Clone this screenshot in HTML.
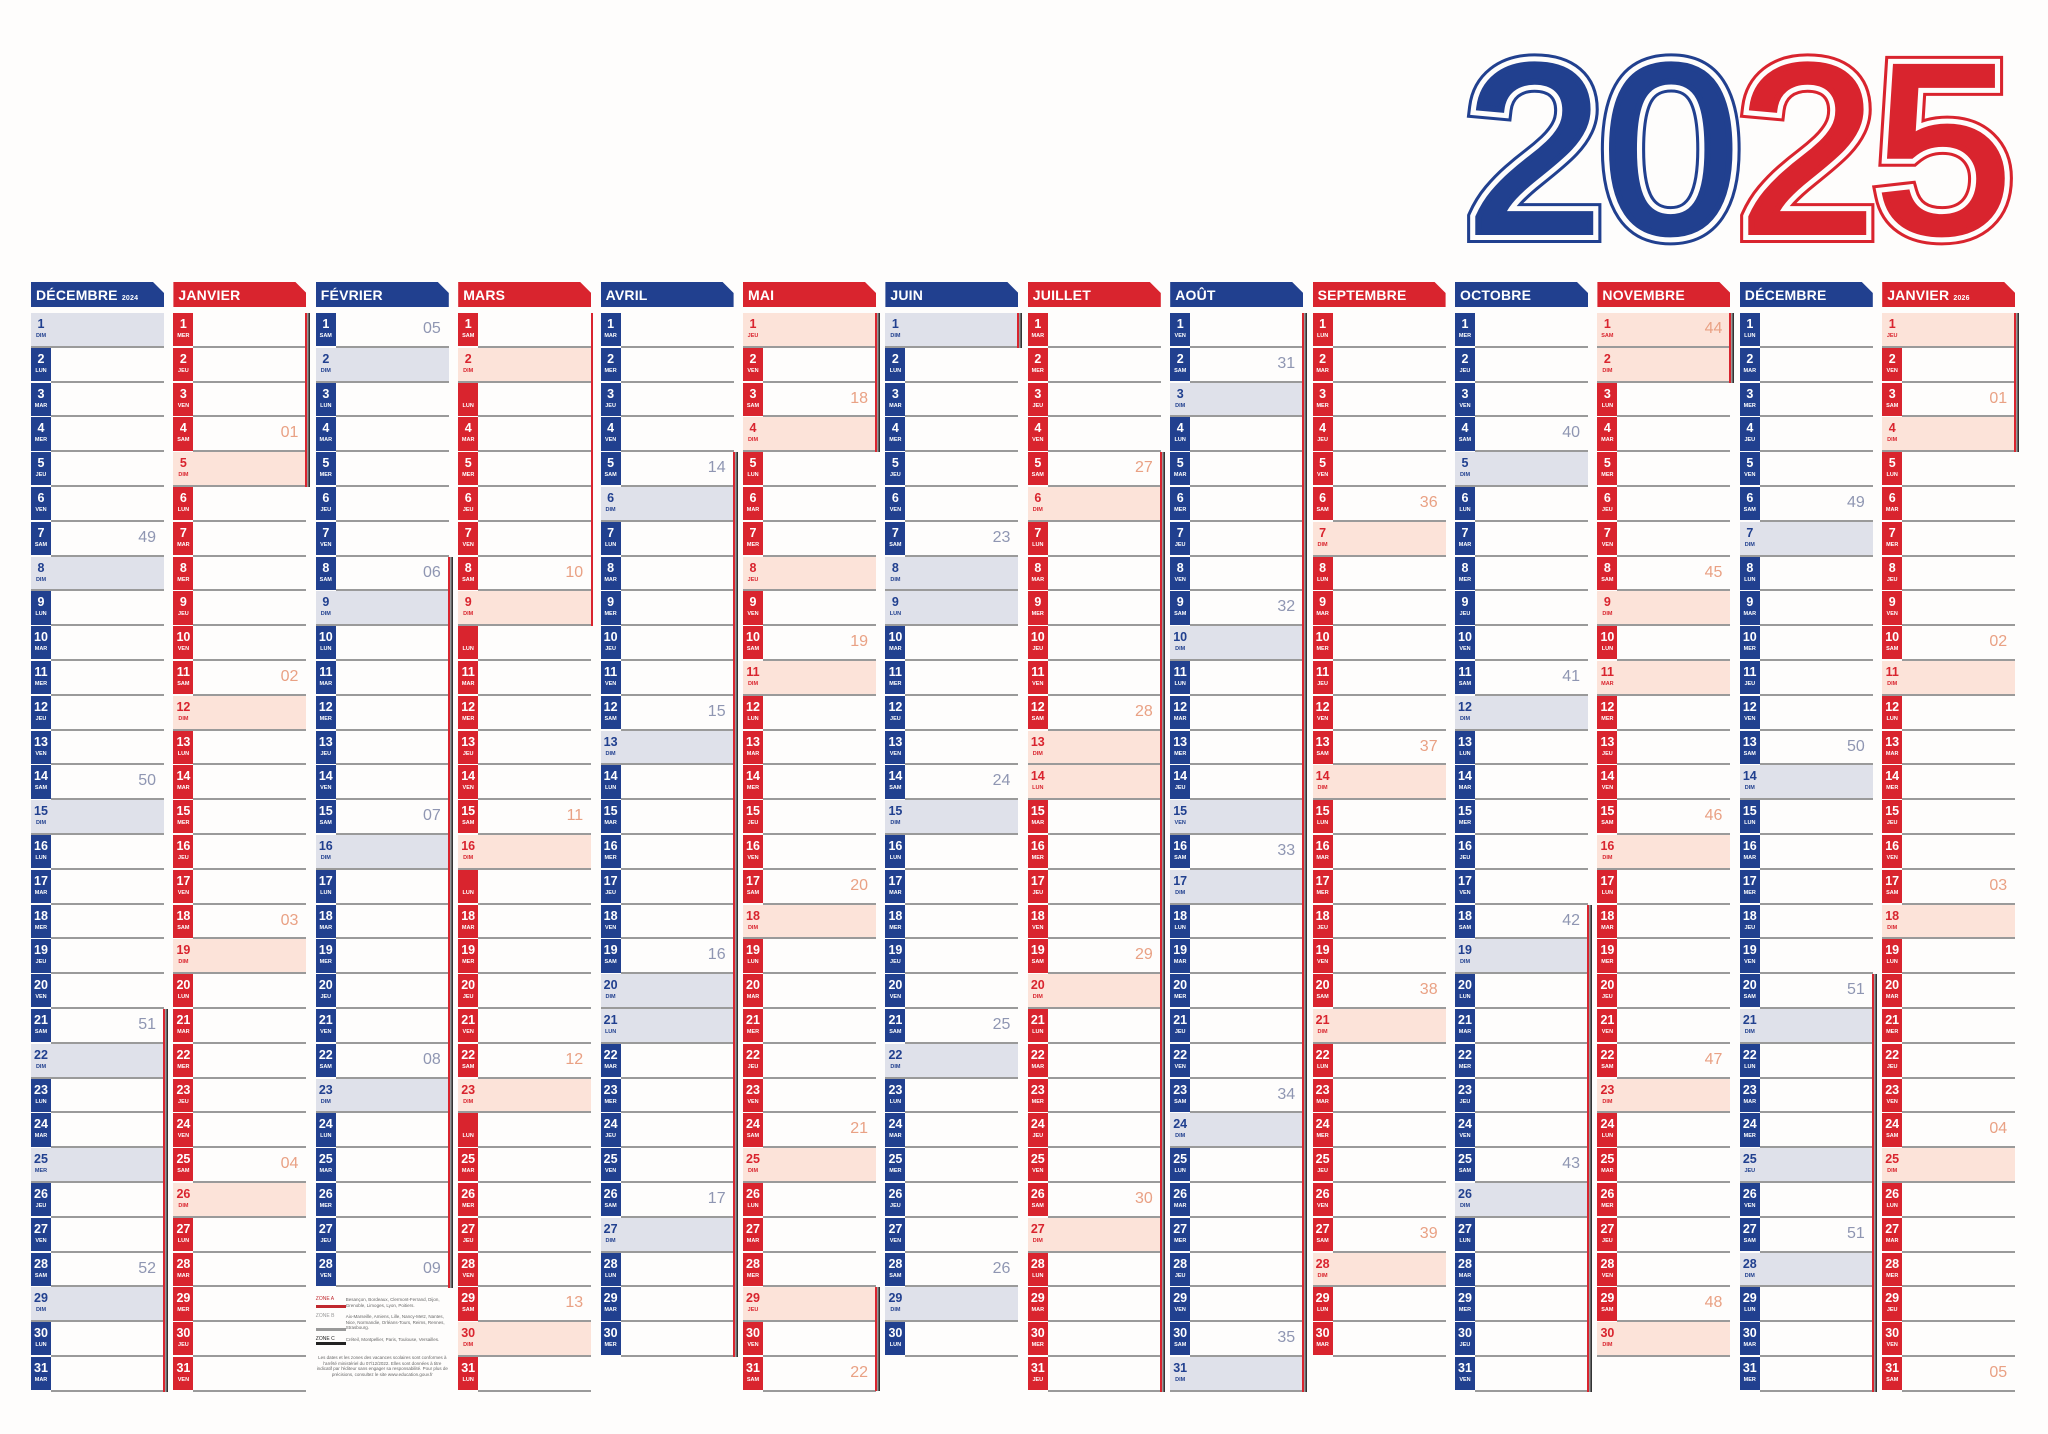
<!DOCTYPE html>
<html><head><meta charset="utf-8">
<style>
*{box-sizing:border-box}
body{margin:0;width:2048px;height:1434px;background:#fefdfc;position:relative;overflow:hidden;font-family:"Liberation Sans",sans-serif}
.c{position:absolute;top:282px;width:133px}
.B{--k:#21408f;--l:#dfe1ea;--w:#8f96b2}
.R{--k:#d9242e;--l:#fce3d9;--w:#e9a184}
.h{height:25px;background:var(--k);color:#fff;font-weight:700;font-size:14px;line-height:27px;padding-left:5px;clip-path:polygon(0 0,calc(100% - 11px) 0,100% 11px,100% 100%,0 100%);letter-spacing:.2px}
.h small{font-size:7px}
.d{margin-top:6px}
.d p{position:relative;height:34.8px;margin:0}
.d p:after{content:"";position:absolute;left:20px;right:0;bottom:0;height:2px;background:#9a9a9a}
.d p b{position:absolute;left:0;top:0;width:20px;height:33.3px;background:var(--k);color:#fff;text-align:center;font-size:12.5px;line-height:12px;padding-top:5px}
.d p b i{display:block;font-style:normal;font-size:5.5px;line-height:6px;margin-top:3px}
.d p.s{background:var(--l)}
.d p.s:after{left:0}
.d p.s b{background:none;color:var(--k)}
.d em{position:absolute;right:8px;top:7px;font-style:normal;font-size:16px;color:var(--w)}
.v{position:absolute;right:-4px;width:5px;background:linear-gradient(90deg,#d9242e 0 2px,#999 2px 3.5px,#333 3.5px 5px)}
.lg{position:absolute;left:0;top:1015px;width:133px;font-size:4.5px;color:#666;line-height:5.5px}
.lg div{display:flex;margin-bottom:6px}
.lg span{width:30px;flex:none;font-size:5px;border-bottom:3px solid}
</style></head><body>
<svg style="position:absolute;left:0;top:0" width="2048" height="280">
<g font-family="Liberation Sans" font-weight="400" font-size="240">
<text x="1466" y="232" textLength="546" lengthAdjust="spacingAndGlyphs" fill="none" stroke-width="22" stroke="#21408f">20<tspan stroke="#d9242e">25</tspan></text>
<text x="1466" y="232" textLength="546" lengthAdjust="spacingAndGlyphs" fill="none" stroke-width="16" stroke="#fefdfc">2025</text>
<text x="1466" y="232" textLength="546" lengthAdjust="spacingAndGlyphs" fill="#21408f" stroke="#21408f" stroke-width="6">20<tspan fill="#d9242e" stroke="#d9242e">25</tspan></text>
<text x="1466" y="232" textLength="546" lengthAdjust="spacingAndGlyphs" fill="none" stroke-width="1.5" stroke="#fefdfc" opacity=".0">2025</text>
</g></svg>

<div class="c B" style="left:31px"><div class="h">DÉCEMBRE <small>2024</small></div><div class="d">
<p class=s><b>1<i>DIM</i></b></p><p><b>2<i>LUN</i></b></p><p><b>3<i>MAR</i></b></p><p><b>4<i>MER</i></b></p><p><b>5<i>JEU</i></b></p><p><b>6<i>VEN</i></b></p><p><b>7<i>SAM</i></b><em>49</em></p><p class=s><b>8<i>DIM</i></b></p><p><b>9<i>LUN</i></b></p><p><b>10<i>MAR</i></b></p><p><b>11<i>MER</i></b></p><p><b>12<i>JEU</i></b></p><p><b>13<i>VEN</i></b></p><p><b>14<i>SAM</i></b><em>50</em></p><p class=s><b>15<i>DIM</i></b></p><p><b>16<i>LUN</i></b></p><p><b>17<i>MAR</i></b></p><p><b>18<i>MER</i></b></p><p><b>19<i>JEU</i></b></p><p><b>20<i>VEN</i></b></p><p><b>21<i>SAM</i></b><em>51</em></p><p class=s><b>22<i>DIM</i></b></p><p><b>23<i>LUN</i></b></p><p><b>24<i>MAR</i></b></p><p class=s><b>25<i>MER</i></b></p><p><b>26<i>JEU</i></b></p><p><b>27<i>VEN</i></b></p><p><b>28<i>SAM</i></b><em>52</em></p><p class=s><b>29<i>DIM</i></b></p><p><b>30<i>LUN</i></b></p><p><b>31<i>MAR</i></b></p>
</div><div class="v" style="top:727px;height:383px"></div></div>

<div class="c R" style="left:173.4px"><div class="h">JANVIER</div><div class="d">
<p><b>1<i>MER</i></b></p><p><b>2<i>JEU</i></b></p><p><b>3<i>VEN</i></b></p><p><b>4<i>SAM</i></b><em>01</em></p><p class=s><b>5<i>DIM</i></b></p><p><b>6<i>LUN</i></b></p><p><b>7<i>MAR</i></b></p><p><b>8<i>MER</i></b></p><p><b>9<i>JEU</i></b></p><p><b>10<i>VEN</i></b></p><p><b>11<i>SAM</i></b><em>02</em></p><p class=s><b>12<i>DIM</i></b></p><p><b>13<i>LUN</i></b></p><p><b>14<i>MAR</i></b></p><p><b>15<i>MER</i></b></p><p><b>16<i>JEU</i></b></p><p><b>17<i>VEN</i></b></p><p><b>18<i>SAM</i></b><em>03</em></p><p class=s><b>19<i>DIM</i></b></p><p><b>20<i>LUN</i></b></p><p><b>21<i>MAR</i></b></p><p><b>22<i>MER</i></b></p><p><b>23<i>JEU</i></b></p><p><b>24<i>VEN</i></b></p><p><b>25<i>SAM</i></b><em>04</em></p><p class=s><b>26<i>DIM</i></b></p><p><b>27<i>LUN</i></b></p><p><b>28<i>MAR</i></b></p><p><b>29<i>MER</i></b></p><p><b>30<i>JEU</i></b></p><p><b>31<i>VEN</i></b></p>
</div><div class="v" style="top:31px;height:174px"></div></div>

<div class="c B" style="left:315.8px"><div class="h">FÉVRIER</div><div class="d">
<p><b>1<i>SAM</i></b><em>05</em></p><p class=s><b>2<i>DIM</i></b></p><p><b>3<i>LUN</i></b></p><p><b>4<i>MAR</i></b></p><p><b>5<i>MER</i></b></p><p><b>6<i>JEU</i></b></p><p><b>7<i>VEN</i></b></p><p><b>8<i>SAM</i></b><em>06</em></p><p class=s><b>9<i>DIM</i></b></p><p><b>10<i>LUN</i></b></p><p><b>11<i>MAR</i></b></p><p><b>12<i>MER</i></b></p><p><b>13<i>JEU</i></b></p><p><b>14<i>VEN</i></b></p><p><b>15<i>SAM</i></b><em>07</em></p><p class=s><b>16<i>DIM</i></b></p><p><b>17<i>LUN</i></b></p><p><b>18<i>MAR</i></b></p><p><b>19<i>MER</i></b></p><p><b>20<i>JEU</i></b></p><p><b>21<i>VEN</i></b></p><p><b>22<i>SAM</i></b><em>08</em></p><p class=s><b>23<i>DIM</i></b></p><p><b>24<i>LUN</i></b></p><p><b>25<i>MAR</i></b></p><p><b>26<i>MER</i></b></p><p><b>27<i>JEU</i></b></p><p><b>28<i>VEN</i></b><em>09</em></p>
</div><div class="v" style="top:275px;height:731px"></div>
<div class="lg"><div><span style="border-color:#c0282e;color:#c0282e">ZONE A</span>Besançon, Bordeaux, Clermont-Ferrand, Dijon, Grenoble, Limoges, Lyon, Poitiers.</div><div><span style="border-color:#999;color:#999">ZONE B</span>Aix-Marseille, Amiens, Lille, Nancy-Metz, Nantes, Nice, Normandie, Orléans-Tours, Reims, Rennes, Strasbourg.</div><div><span style="border-color:#222;color:#222">ZONE C</span>Créteil, Montpellier, Paris, Toulouse, Versailles.</div><p style="text-align:center;margin:10px 0 0">Les dates et les zones des vacances scolaires sont conformes à l'arrêté ministériel du 07/12/2022. Elles sont données à titre indicatif par l'éditeur sans engager sa responsabilité. Pour plus de précisions, consultez le site www.education.gouv.fr</p></div></div>

<div class="c R" style="left:458.2px"><div class="h">MARS</div><div class="d">
<p><b>1<i>SAM</i></b></p><p class=s><b>2<i>DIM</i></b></p><p><b><br><i>LUN</i></b></p><p><b>4<i>MAR</i></b></p><p><b>5<i>MER</i></b></p><p><b>6<i>JEU</i></b></p><p><b>7<i>VEN</i></b></p><p><b>8<i>SAM</i></b><em>10</em></p><p class=s><b>9<i>DIM</i></b></p><p><b><br><i>LUN</i></b></p><p><b>11<i>MAR</i></b></p><p><b>12<i>MER</i></b></p><p><b>13<i>JEU</i></b></p><p><b>14<i>VEN</i></b></p><p><b>15<i>SAM</i></b><em>11</em></p><p class=s><b>16<i>DIM</i></b></p><p><b><br><i>LUN</i></b></p><p><b>18<i>MAR</i></b></p><p><b>19<i>MER</i></b></p><p><b>20<i>JEU</i></b></p><p><b>21<i>VEN</i></b></p><p><b>22<i>SAM</i></b><em>12</em></p><p class=s><b>23<i>DIM</i></b></p><p><b><br><i>LUN</i></b></p><p><b>25<i>MAR</i></b></p><p><b>26<i>MER</i></b></p><p><b>27<i>JEU</i></b></p><p><b>28<i>VEN</i></b></p><p><b>29<i>SAM</i></b><em>13</em></p><p class=s><b>30<i>DIM</i></b></p><p><b>31<i>LUN</i></b></p>
</div><div class="v" style="top:31px;height:313px;width:2px;right:-2px"></div></div>

<div class="c B" style="left:600.6px"><div class="h">AVRIL</div><div class="d">
<p><b>1<i>MAR</i></b></p><p><b>2<i>MER</i></b></p><p><b>3<i>JEU</i></b></p><p><b>4<i>VEN</i></b></p><p><b>5<i>SAM</i></b><em>14</em></p><p class=s><b>6<i>DIM</i></b></p><p><b>7<i>LUN</i></b></p><p><b>8<i>MAR</i></b></p><p><b>9<i>MER</i></b></p><p><b>10<i>JEU</i></b></p><p><b>11<i>VEN</i></b></p><p><b>12<i>SAM</i></b><em>15</em></p><p class=s><b>13<i>DIM</i></b></p><p><b>14<i>LUN</i></b></p><p><b>15<i>MAR</i></b></p><p><b>16<i>MER</i></b></p><p><b>17<i>JEU</i></b></p><p><b>18<i>VEN</i></b></p><p><b>19<i>SAM</i></b><em>16</em></p><p class=s><b>20<i>DIM</i></b></p><p class=s><b>21<i>LUN</i></b></p><p><b>22<i>MAR</i></b></p><p><b>23<i>MER</i></b></p><p><b>24<i>JEU</i></b></p><p><b>25<i>VEN</i></b></p><p><b>26<i>SAM</i></b><em>17</em></p><p class=s><b>27<i>DIM</i></b></p><p><b>28<i>LUN</i></b></p><p><b>29<i>MAR</i></b></p><p><b>30<i>MER</i></b></p>
</div><div class="v" style="top:170px;height:905px"></div></div>

<div class="c R" style="left:743px"><div class="h">MAI</div><div class="d">
<p class=s><b>1<i>JEU</i></b></p><p><b>2<i>VEN</i></b></p><p><b>3<i>SAM</i></b><em>18</em></p><p class=s><b>4<i>DIM</i></b></p><p><b>5<i>LUN</i></b></p><p><b>6<i>MAR</i></b></p><p><b>7<i>MER</i></b></p><p class=s><b>8<i>JEU</i></b></p><p><b>9<i>VEN</i></b></p><p><b>10<i>SAM</i></b><em>19</em></p><p class=s><b>11<i>DIM</i></b></p><p><b>12<i>LUN</i></b></p><p><b>13<i>MAR</i></b></p><p><b>14<i>MER</i></b></p><p><b>15<i>JEU</i></b></p><p><b>16<i>VEN</i></b></p><p><b>17<i>SAM</i></b><em>20</em></p><p class=s><b>18<i>DIM</i></b></p><p><b>19<i>LUN</i></b></p><p><b>20<i>MAR</i></b></p><p><b>21<i>MER</i></b></p><p><b>22<i>JEU</i></b></p><p><b>23<i>VEN</i></b></p><p><b>24<i>SAM</i></b><em>21</em></p><p class=s><b>25<i>DIM</i></b></p><p><b>26<i>LUN</i></b></p><p><b>27<i>MAR</i></b></p><p><b>28<i>MER</i></b></p><p class=s><b>29<i>JEU</i></b></p><p><b>30<i>VEN</i></b></p><p><b>31<i>SAM</i></b><em>22</em></p>
</div><div class="v" style="top:31px;height:139px"></div><div class="v" style="top:1005px;height:104px"></div></div>

<div class="c B" style="left:885.4px"><div class="h">JUIN</div><div class="d">
<p class=s><b>1<i>DIM</i></b></p><p><b>2<i>LUN</i></b></p><p><b>3<i>MAR</i></b></p><p><b>4<i>MER</i></b></p><p><b>5<i>JEU</i></b></p><p><b>6<i>VEN</i></b></p><p><b>7<i>SAM</i></b><em>23</em></p><p class=s><b>8<i>DIM</i></b></p><p class=s><b>9<i>LUN</i></b></p><p><b>10<i>MAR</i></b></p><p><b>11<i>MER</i></b></p><p><b>12<i>JEU</i></b></p><p><b>13<i>VEN</i></b></p><p><b>14<i>SAM</i></b><em>24</em></p><p class=s><b>15<i>DIM</i></b></p><p><b>16<i>LUN</i></b></p><p><b>17<i>MAR</i></b></p><p><b>18<i>MER</i></b></p><p><b>19<i>JEU</i></b></p><p><b>20<i>VEN</i></b></p><p><b>21<i>SAM</i></b><em>25</em></p><p class=s><b>22<i>DIM</i></b></p><p><b>23<i>LUN</i></b></p><p><b>24<i>MAR</i></b></p><p><b>25<i>MER</i></b></p><p><b>26<i>JEU</i></b></p><p><b>27<i>VEN</i></b></p><p><b>28<i>SAM</i></b><em>26</em></p><p class=s><b>29<i>DIM</i></b></p><p><b>30<i>LUN</i></b></p>
</div><div class="v" style="top:31px;height:35px"></div></div>

<div class="c R" style="left:1027.8px"><div class="h">JUILLET</div><div class="d">
<p><b>1<i>MAR</i></b></p><p><b>2<i>MER</i></b></p><p><b>3<i>JEU</i></b></p><p><b>4<i>VEN</i></b></p><p><b>5<i>SAM</i></b><em>27</em></p><p class=s><b>6<i>DIM</i></b></p><p><b>7<i>LUN</i></b></p><p><b>8<i>MAR</i></b></p><p><b>9<i>MER</i></b></p><p><b>10<i>JEU</i></b></p><p><b>11<i>VEN</i></b></p><p><b>12<i>SAM</i></b><em>28</em></p><p class=s><b>13<i>DIM</i></b></p><p class=s><b>14<i>LUN</i></b></p><p><b>15<i>MAR</i></b></p><p><b>16<i>MER</i></b></p><p><b>17<i>JEU</i></b></p><p><b>18<i>VEN</i></b></p><p><b>19<i>SAM</i></b><em>29</em></p><p class=s><b>20<i>DIM</i></b></p><p><b>21<i>LUN</i></b></p><p><b>22<i>MAR</i></b></p><p><b>23<i>MER</i></b></p><p><b>24<i>JEU</i></b></p><p><b>25<i>VEN</i></b></p><p><b>26<i>SAM</i></b><em>30</em></p><p class=s><b>27<i>DIM</i></b></p><p><b>28<i>LUN</i></b></p><p><b>29<i>MAR</i></b></p><p><b>30<i>MER</i></b></p><p><b>31<i>JEU</i></b></p>
</div><div class="v" style="top:170px;height:940px"></div></div>

<div class="c B" style="left:1170.2px"><div class="h">AOÛT</div><div class="d">
<p><b>1<i>VEN</i></b></p><p><b>2<i>SAM</i></b><em>31</em></p><p class=s><b>3<i>DIM</i></b></p><p><b>4<i>LUN</i></b></p><p><b>5<i>MAR</i></b></p><p><b>6<i>MER</i></b></p><p><b>7<i>JEU</i></b></p><p><b>8<i>VEN</i></b></p><p><b>9<i>SAM</i></b><em>32</em></p><p class=s><b>10<i>DIM</i></b></p><p><b>11<i>LUN</i></b></p><p><b>12<i>MAR</i></b></p><p><b>13<i>MER</i></b></p><p><b>14<i>JEU</i></b></p><p class=s><b>15<i>VEN</i></b></p><p><b>16<i>SAM</i></b><em>33</em></p><p class=s><b>17<i>DIM</i></b></p><p><b>18<i>LUN</i></b></p><p><b>19<i>MAR</i></b></p><p><b>20<i>MER</i></b></p><p><b>21<i>JEU</i></b></p><p><b>22<i>VEN</i></b></p><p><b>23<i>SAM</i></b><em>34</em></p><p class=s><b>24<i>DIM</i></b></p><p><b>25<i>LUN</i></b></p><p><b>26<i>MAR</i></b></p><p><b>27<i>MER</i></b></p><p><b>28<i>JEU</i></b></p><p><b>29<i>VEN</i></b></p><p><b>30<i>SAM</i></b><em>35</em></p><p class=s><b>31<i>DIM</i></b></p>
</div><div class="v" style="top:31px;height:1079px"></div></div>

<div class="c R" style="left:1312.6px"><div class="h">SEPTEMBRE</div><div class="d">
<p><b>1<i>LUN</i></b></p><p><b>2<i>MAR</i></b></p><p><b>3<i>MER</i></b></p><p><b>4<i>JEU</i></b></p><p><b>5<i>VEN</i></b></p><p><b>6<i>SAM</i></b><em>36</em></p><p class=s><b>7<i>DIM</i></b></p><p><b>8<i>LUN</i></b></p><p><b>9<i>MAR</i></b></p><p><b>10<i>MER</i></b></p><p><b>11<i>JEU</i></b></p><p><b>12<i>VEN</i></b></p><p><b>13<i>SAM</i></b><em>37</em></p><p class=s><b>14<i>DIM</i></b></p><p><b>15<i>LUN</i></b></p><p><b>16<i>MAR</i></b></p><p><b>17<i>MER</i></b></p><p><b>18<i>JEU</i></b></p><p><b>19<i>VEN</i></b></p><p><b>20<i>SAM</i></b><em>38</em></p><p class=s><b>21<i>DIM</i></b></p><p><b>22<i>LUN</i></b></p><p><b>23<i>MAR</i></b></p><p><b>24<i>MER</i></b></p><p><b>25<i>JEU</i></b></p><p><b>26<i>VEN</i></b></p><p><b>27<i>SAM</i></b><em>39</em></p><p class=s><b>28<i>DIM</i></b></p><p><b>29<i>LUN</i></b></p><p><b>30<i>MAR</i></b></p>
</div></div>

<div class="c B" style="left:1455px"><div class="h">OCTOBRE</div><div class="d">
<p><b>1<i>MER</i></b></p><p><b>2<i>JEU</i></b></p><p><b>3<i>VEN</i></b></p><p><b>4<i>SAM</i></b><em>40</em></p><p class=s><b>5<i>DIM</i></b></p><p><b>6<i>LUN</i></b></p><p><b>7<i>MAR</i></b></p><p><b>8<i>MER</i></b></p><p><b>9<i>JEU</i></b></p><p><b>10<i>VEN</i></b></p><p><b>11<i>SAM</i></b><em>41</em></p><p class=s><b>12<i>DIM</i></b></p><p><b>13<i>LUN</i></b></p><p><b>14<i>MAR</i></b></p><p><b>15<i>MER</i></b></p><p><b>16<i>JEU</i></b></p><p><b>17<i>VEN</i></b></p><p><b>18<i>SAM</i></b><em>42</em></p><p class=s><b>19<i>DIM</i></b></p><p><b>20<i>LUN</i></b></p><p><b>21<i>MAR</i></b></p><p><b>22<i>MER</i></b></p><p><b>23<i>JEU</i></b></p><p><b>24<i>VEN</i></b></p><p><b>25<i>SAM</i></b><em>43</em></p><p class=s><b>26<i>DIM</i></b></p><p><b>27<i>LUN</i></b></p><p><b>28<i>MAR</i></b></p><p><b>29<i>MER</i></b></p><p><b>30<i>JEU</i></b></p><p><b>31<i>VEN</i></b></p>
</div><div class="v" style="top:623px;height:487px"></div></div>

<div class="c R" style="left:1597.4px"><div class="h">NOVEMBRE</div><div class="d">
<p class=s><b>1<i>SAM</i></b><em>44</em></p><p class=s><b>2<i>DIM</i></b></p><p><b>3<i>LUN</i></b></p><p><b>4<i>MAR</i></b></p><p><b>5<i>MER</i></b></p><p><b>6<i>JEU</i></b></p><p><b>7<i>VEN</i></b></p><p><b>8<i>SAM</i></b><em>45</em></p><p class=s><b>9<i>DIM</i></b></p><p><b>10<i>LUN</i></b></p><p class=s><b>11<i>MAR</i></b></p><p><b>12<i>MER</i></b></p><p><b>13<i>JEU</i></b></p><p><b>14<i>VEN</i></b></p><p><b>15<i>SAM</i></b><em>46</em></p><p class=s><b>16<i>DIM</i></b></p><p><b>17<i>LUN</i></b></p><p><b>18<i>MAR</i></b></p><p><b>19<i>MER</i></b></p><p><b>20<i>JEU</i></b></p><p><b>21<i>VEN</i></b></p><p><b>22<i>SAM</i></b><em>47</em></p><p class=s><b>23<i>DIM</i></b></p><p><b>24<i>LUN</i></b></p><p><b>25<i>MAR</i></b></p><p><b>26<i>MER</i></b></p><p><b>27<i>JEU</i></b></p><p><b>28<i>VEN</i></b></p><p><b>29<i>SAM</i></b><em>48</em></p><p class=s><b>30<i>DIM</i></b></p>
</div><div class="v" style="top:31px;height:70px"></div></div>

<div class="c B" style="left:1739.8px"><div class="h">DÉCEMBRE</div><div class="d">
<p><b>1<i>LUN</i></b></p><p><b>2<i>MAR</i></b></p><p><b>3<i>MER</i></b></p><p><b>4<i>JEU</i></b></p><p><b>5<i>VEN</i></b></p><p><b>6<i>SAM</i></b><em>49</em></p><p class=s><b>7<i>DIM</i></b></p><p><b>8<i>LUN</i></b></p><p><b>9<i>MAR</i></b></p><p><b>10<i>MER</i></b></p><p><b>11<i>JEU</i></b></p><p><b>12<i>VEN</i></b></p><p><b>13<i>SAM</i></b><em>50</em></p><p class=s><b>14<i>DIM</i></b></p><p><b>15<i>LUN</i></b></p><p><b>16<i>MAR</i></b></p><p><b>17<i>MER</i></b></p><p><b>18<i>JEU</i></b></p><p><b>19<i>VEN</i></b></p><p><b>20<i>SAM</i></b><em>51</em></p><p class=s><b>21<i>DIM</i></b></p><p><b>22<i>LUN</i></b></p><p><b>23<i>MAR</i></b></p><p><b>24<i>MER</i></b></p><p class=s><b>25<i>JEU</i></b></p><p><b>26<i>VEN</i></b></p><p><b>27<i>SAM</i></b><em>51</em></p><p class=s><b>28<i>DIM</i></b></p><p><b>29<i>LUN</i></b></p><p><b>30<i>MAR</i></b></p><p><b>31<i>MER</i></b></p>
</div><div class="v" style="top:692px;height:418px"></div></div>

<div class="c R" style="left:1882.2px"><div class="h">JANVIER <small>2026</small></div><div class="d">
<p class=s><b>1<i>JEU</i></b></p><p><b>2<i>VEN</i></b></p><p><b>3<i>SAM</i></b><em>01</em></p><p class=s><b>4<i>DIM</i></b></p><p><b>5<i>LUN</i></b></p><p><b>6<i>MAR</i></b></p><p><b>7<i>MER</i></b></p><p><b>8<i>JEU</i></b></p><p><b>9<i>VEN</i></b></p><p><b>10<i>SAM</i></b><em>02</em></p><p class=s><b>11<i>DIM</i></b></p><p><b>12<i>LUN</i></b></p><p><b>13<i>MAR</i></b></p><p><b>14<i>MER</i></b></p><p><b>15<i>JEU</i></b></p><p><b>16<i>VEN</i></b></p><p><b>17<i>SAM</i></b><em>03</em></p><p class=s><b>18<i>DIM</i></b></p><p><b>19<i>LUN</i></b></p><p><b>20<i>MAR</i></b></p><p><b>21<i>MER</i></b></p><p><b>22<i>JEU</i></b></p><p><b>23<i>VEN</i></b></p><p><b>24<i>SAM</i></b><em>04</em></p><p class=s><b>25<i>DIM</i></b></p><p><b>26<i>LUN</i></b></p><p><b>27<i>MAR</i></b></p><p><b>28<i>MER</i></b></p><p><b>29<i>JEU</i></b></p><p><b>30<i>VEN</i></b></p><p><b>31<i>SAM</i></b><em>05</em></p>
</div><div class="v" style="top:31px;height:139px"></div></div>
</body></html>
